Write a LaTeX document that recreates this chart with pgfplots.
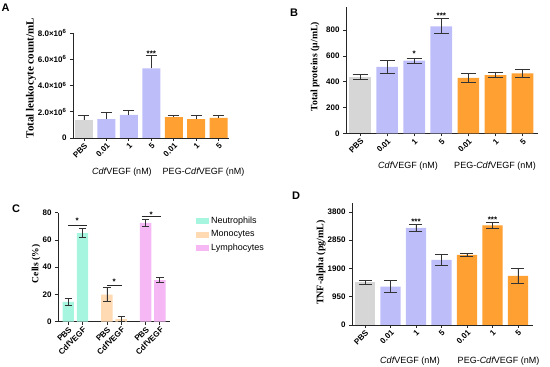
\documentclass[border=0pt]{standalone}
\usepackage{fontspec}
\setmainfont{Liberation Sans}
\newfontfamily\timesf{Liberation Serif}
\usepackage{pgfplots}
\pgfplotsset{compat=1.18}
\definecolor{cgray}{HTML}{D6D6D6}
\definecolor{clav}{HTML}{BDBDFA}
\definecolor{corange}{HTML}{FFA033}
\definecolor{cmint}{HTML}{A6F5DF}
\definecolor{cpeach}{HTML}{FFDAB2}
\definecolor{cpink}{HTML}{F5B8F5}
\pgfplotsset{
  panel/.style={scale only axis, axis lines*=left,
    axis line style={-, line width=0.8pt, black!85},
    tick align=outside, major tick length=3pt,
    tick style={line width=0.8pt, black!85},
    ymin=0, clip=false,
    tick label style={font=\bfseries\fontsize{8}{9}\selectfont},
    /pgf/number format/assume math mode=true,
    /pgf/number format/1000 sep={},
    scaled y ticks=false,
    ylabel style={anchor=center},
    xticklabel style={rotate=45, anchor=north east, inner sep=1pt},
  },
  bars/.style={ybar, bar width=0.8, bar shift=0pt, draw=none, fill=#1},
  eb/.style={error bars/y dir=both, error bars/y explicit,
    error bars/error bar style={line width=0.8pt, black!80},
    error bars/error mark options={rotate=90, line width=0.8pt, black!80, mark size=#1}},
  ebp/.style={error bars/y dir=plus, error bars/y explicit,
    error bars/error bar style={line width=0.8pt, black!80},
    error bars/error mark options={rotate=90, line width=0.8pt, black!80, mark size=#1}},
}
\begin{document}
\begin{tikzpicture}
\path[use as bounding box] (0,0) rectangle (550pt,367pt);
% ---------------- A
\begin{axis}[panel, at={(73pt,229pt)}, anchor=south west,
  width=156pt, height=105pt, xmin=-0.49, xmax=6.46, ymax=8000000,
  xtick={0,1,2,3,4,5,6}, xticklabels={PBS,0.01,1,5,0.01,1,5},
  ytick={0,2000000,4000000,6000000,8000000},
  yticklabels={0,2.0×10\textsuperscript{6},4.0×10\textsuperscript{6},6.0×10\textsuperscript{6},8.0×10\textsuperscript{6}},
  ylabel={Total leukocyte count/mL},
  ylabel style={font=\timesf\bfseries\fontsize{11}{12}\selectfont, at={(axis description cs:-0.269,0.569)}}]
\addplot[bars=cgray, ebp=5.5pt] coordinates {(0,1390000) +- (0,330000)};
\addplot[bars=clav, ebp=5.5pt] coordinates {(1,1440000) +- (0,500000) (2,1770000) +- (0,330000) (3,5300000) +- (0,1000000)};
\addplot[bars=corange, ebp=5.5pt] coordinates {(4,1590000) +- (0,150000) (5,1440000) +- (0,300000) (6,1540000) +- (0,180000)};
\node[font=\bfseries\fontsize{8}{9}\selectfont] at (axis cs:3,6400000) {***};
\end{axis}
% ---------------- B
\begin{axis}[panel, at={(346pt,233.7pt)}, anchor=south west,
  width=192pt, height=126.3pt, xmin=-0.52, xmax=6.57, ymax=980,
  xtick={0,1,2,3,4,5,6}, xticklabels={PBS,0.01,1,5,0.01,1,5},
  ytick={0,200,400,600,800},
  ylabel={Total proteins (μ/mL)},
  ylabel style={font=\timesf\bfseries\fontsize{9.7}{11}\selectfont, at={(axis description cs:-0.161,0.527)}}]
\addplot[bars=cgray, eb=7.5pt] coordinates {(0,439) +- (0,20)};
\addplot[bars=clav, eb=7.5pt] coordinates {(1,516) +- (0,49) (2,563) +- (0,18) (3,830) +- (0,58)};
\addplot[bars=corange, eb=7.5pt] coordinates {(4,430) +- (0,34) (5,452) +- (0,22) (6,465) +- (0,32)};
\node[font=\bfseries\fontsize{8}{9}\selectfont] at (axis cs:2,618) {*};
\node[font=\bfseries\fontsize{8}{9}\selectfont] at (axis cs:3,910) {***};
\end{axis}
% ---------------- C
\begin{axis}[panel, at={(58pt,45.3pt)}, anchor=south west,
  width=112pt, height=109pt, xmin=-0.72, xmax=7.13, ymax=80,
  xtick={0,1,2.71,3.71,5.42,6.42},
  xticklabels={PBS,CdfVEGF,PBS,CdfVEGF,PBS,CdfVEGF},
  ytick={0,20,40,60,80},
  ylabel={Cells (\%)},
  ylabel style={font=\timesf\bfseries\fontsize{9.5}{11}\selectfont, at={(axis description cs:-0.196,0.53)}},
  legend style={at={(axis description cs:1.205,0.997)}, anchor=north west,
    draw=none, fill=none, font=\fontsize{9}{10}\selectfont, row sep=1.5pt},
  legend cell align=left]
\addplot[bars=cmint, eb=3.7pt, legend image code/.code={\fill[cmint] (0pt,-3pt) rectangle (13pt,3pt);}]
  coordinates {(0,14.5) +- (0,2.8) (1,65) +- (0,3.2)};
\addlegendentry{Neutrophils}
\addplot[bars=cpeach, eb=3.7pt, legend image code/.code={\fill[cpeach] (0pt,-3pt) rectangle (13pt,3pt);}]
  coordinates {(2.71,19.8) +- (0,5.2) (3.71,1.8) +- (0,1.8)};
\addlegendentry{Monocytes}
\addplot[bars=cpink, eb=3.7pt, legend image code/.code={\fill[cpink] (0pt,-3pt) rectangle (13pt,3pt);}]
  coordinates {(5.42,72.5) +- (0,2.7) (6.42,30.6) +- (0,2)};
\addlegendentry{Lymphocytes}
\draw[line width=0.7pt, black!85] (axis cs:0,71) -- (axis cs:1.29,71);
\draw[line width=0.7pt, black!85] (axis cs:2.70,27) -- (axis cs:3.77,27);
\draw[line width=0.7pt, black!85] (axis cs:5.15,77) -- (axis cs:6.52,77);
\node[font=\bfseries\fontsize{8}{9}\selectfont] at (axis cs:0.62,73.9) {*};
\node[font=\bfseries\fontsize{8}{9}\selectfont] at (axis cs:3.22,29.1) {*};
\node[font=\bfseries\fontsize{8}{9}\selectfont] at (axis cs:5.82,78.5) {*};
\end{axis}
% ---------------- D
\begin{axis}[panel, at={(352pt,42pt)}, anchor=south west,
  width=181pt, height=122pt, xmin=-0.51, xmax=6.59, ymax=4100,
  xtick={0,1,2,3,4,5,6}, xticklabels={PBS,0.01,1,5,0.01,1,5},
  ytick={0,950,1900,2850,3800},
  ylabel={TNF-alpha (pg/mL)},
  ylabel style={font=\timesf\bfseries\fontsize{10}{11}\selectfont, at={(axis description cs:-0.171,0.512)}}]
\addplot[bars=cgray, eb=6.5pt] coordinates {(0,1430) +- (0,70)};
\addplot[bars=clav, eb=6.5pt] coordinates {(1,1293) +- (0,210) (2,3260) +- (0,110) (3,2190) +- (0,180)};
\addplot[bars=corange, eb=6.5pt] coordinates {(4,2360) +- (0,50) (5,3350) +- (0,90) (6,1650) +- (0,260)};
\node[font=\bfseries\fontsize{8}{9}\selectfont] at (axis cs:2,3461) {***};
\node[font=\bfseries\fontsize{8}{9}\selectfont] at (axis cs:5,3552) {***};
\end{axis}
% group labels
\node[font=\fontsize{9}{10}\selectfont] at (122pt,195pt) {{\itshape Cdf}VEGF (nM)};
\node[font=\fontsize{9}{10}\selectfont] at (203.5pt,195pt) {PEG-{\itshape Cdf}VEGF (nM)};
\node[font=\fontsize{9}{10}\selectfont] at (408pt,201pt) {{\itshape Cdf}VEGF (nM)};
\node[font=\fontsize{9}{10}\selectfont] at (495pt,201pt) {PEG-{\itshape Cdf}VEGF (nM)};
\node[font=\fontsize{9}{10}\selectfont] at (410pt,6pt) {{\itshape Cdf}VEGF (nM)};
\node[font=\fontsize{9}{10}\selectfont] at (498.5pt,6pt) {PEG-{\itshape Cdf}VEGF (nM)};
% panel letters
\node[font=\bfseries\fontsize{11}{12}\selectfont] at (5.5pt,359pt) {A};
\node[font=\bfseries\fontsize{11}{12}\selectfont] at (294pt,354pt) {B};
\node[font=\bfseries\fontsize{11}{12}\selectfont] at (16pt,158pt) {C};
\node[font=\bfseries\fontsize{11}{12}\selectfont] at (296pt,171pt) {D};
\end{tikzpicture}
\end{document}
